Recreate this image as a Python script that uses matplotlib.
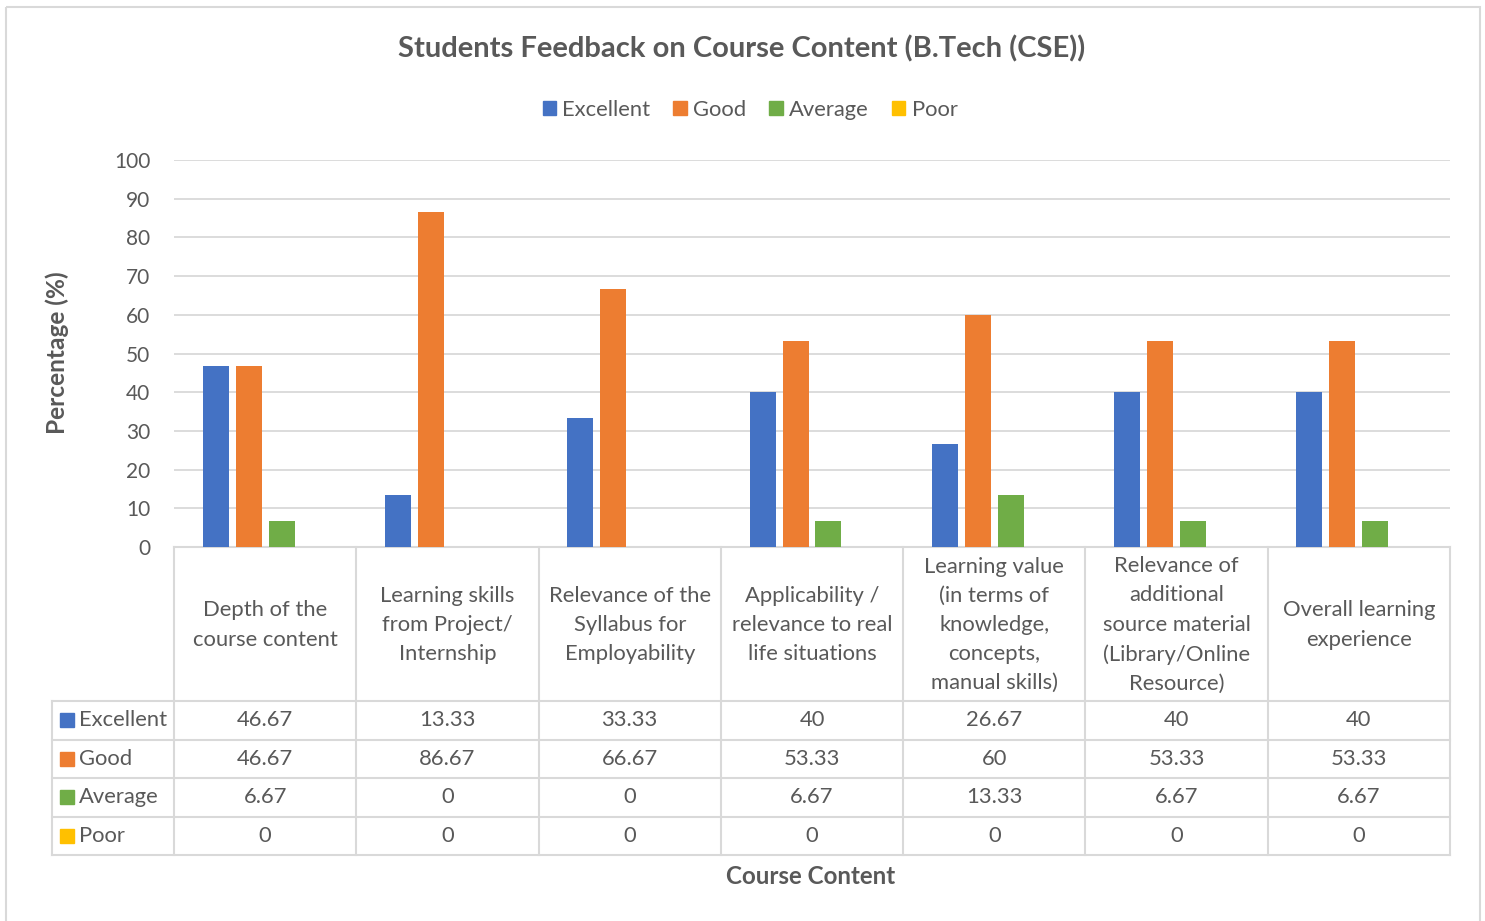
import numpy as np
import matplotlib.pyplot as plt
from matplotlib.patches import Rectangle, Patch
from matplotlib.lines import Line2D
from matplotlib.transforms import Affine2D

plt.rcParams['font.family'] = ['Lato', 'DejaVu Sans']

categories = ["Depth of the\ncourse content",
              "Learning skills\nfrom Project/\nInternship",
              "Relevance of the\nSyllabus for\nEmployability",
              "Applicability /\nrelevance to real\nlife situations",
              "Learning value\n(in terms of\nknowledge,\nconcepts,\nmanual skills)",
              "Relevance of\nadditional\nsource material\n(Library/Online\nResource)",
              "Overall learning\nexperience"]
series = ["Excellent", "Good", "Average", "Poor"]
excellent = [46.67, 13.33, 33.33, 40, 26.67, 40, 40]
good = [46.67, 86.67, 66.67, 53.33, 60, 53.33, 53.33]
average = [6.67, 0, 0, 6.67, 13.33, 6.67, 6.67]
poor = [0, 0, 0, 0, 0, 0, 0]
values = [excellent, good, average, poor]
colors = ["#4472C4", "#ED7D31", "#70AD47", "#FFC000"]

W, H = 1485, 921
TXT = "#595959"
GRID = "#D9D9D9"
FS = 15.8

fig = plt.figure(figsize=(W / 100, H / 100), dpi=100)
px = Affine2D().scale(1 / W, -1 / H).translate(0, 1) + fig.transFigure

# plot area
x0, x1, ytop, ybot = 174, 1450, 160, 547
ax = fig.add_axes([x0 / W, 1 - ybot / H, (x1 - x0) / W, (ybot - ytop) / H])
x = np.arange(len(categories))
step = 0.181
width = 0.1426
for i, (name, vals) in enumerate(zip(series, values)):
    ax.bar(x + (i - 1.5) * step, vals, width, color=colors[i], label=name, zorder=3)

ax.set_xlim(-0.5, len(categories) - 0.5)
ax.set_ylim(0, 100)
ax.set_yticks(np.arange(0, 101, 10))
ax.set_xticks([])
ax.yaxis.grid(True, color=GRID, lw=1.3, zorder=0)
for s in ["top", "right", "left"]:
    ax.spines[s].set_visible(False)
ax.spines["bottom"].set_color(GRID)
ax.spines["bottom"].set_linewidth(1.5)
ax.tick_params(axis='y', length=0, pad=17, labelsize=15, labelcolor=TXT)

# data table
cw = (x1 - x0) / len(categories)
hdr_bot = 701
row_h = 38.5
rows_bot = hdr_bot + row_h * len(series)
lkw = dict(color=GRID, lw=1.5, transform=px)
for k in range(len(categories) + 1):
    xx = x0 + k * cw
    fig.add_artist(Line2D([xx, xx], [ybot, rows_bot], **lkw))
fig.add_artist(Line2D([52, 52], [hdr_bot, rows_bot], **lkw))
for r in range(len(series) + 1):
    yy = hdr_bot + r * row_h
    fig.add_artist(Line2D([52, x1], [yy, yy], **lkw))

for k, cat in enumerate(categories):
    fig.text(x0 + (k + 0.5) * cw, (ybot + hdr_bot) / 2 + 1, cat, transform=px,
             ha='center', va='center', fontsize=FS, color=TXT, linespacing=1.57)

for r, (name, vals) in enumerate(zip(series, values)):
    yc = hdr_bot + (r + 0.5) * row_h
    fig.add_artist(Rectangle((60, yc - 7), 14, 14, color=colors[r], transform=px))
    fig.text(79, yc, name, transform=px, ha='left', va='center', fontsize=FS, color=TXT)
    for k, v in enumerate(vals):
        fig.text(x0 + (k + 0.5) * cw, yc, f"{v:g}", transform=px,
                 ha='center', va='center', fontsize=FS, color=TXT)

# titles
fig.text(742, 49, "Students Feedback on Course Content (B.Tech (CSE))", transform=px,
         ha='center', va='center', fontsize=21, fontweight='bold', color=TXT)
fig.text(57, 353, "Percentage (%)", transform=px, rotation=90,
         ha='center', va='center', fontsize=17.6, fontweight='bold', color=TXT)
fig.text(811, 876, "Course Content", transform=px,
         ha='center', va='center', fontsize=17.4, fontweight='bold', color=TXT)

handles = [Patch(color=c, label=s) for c, s in zip(colors, series)]
fig.legend(handles=handles, loc='center', bbox_to_anchor=(750 / W, 1 - 110 / H), ncol=4,
           frameon=False, fontsize=FS, labelcolor=TXT, handlelength=0.6, handleheight=0.6,
           handletextpad=0.3, columnspacing=1.05)

# chart border
fig.add_artist(Rectangle((6, 7), 1474, 925, fill=False, ec=GRID, lw=1.5, transform=px))

fig.savefig("out.png", dpi=100)
